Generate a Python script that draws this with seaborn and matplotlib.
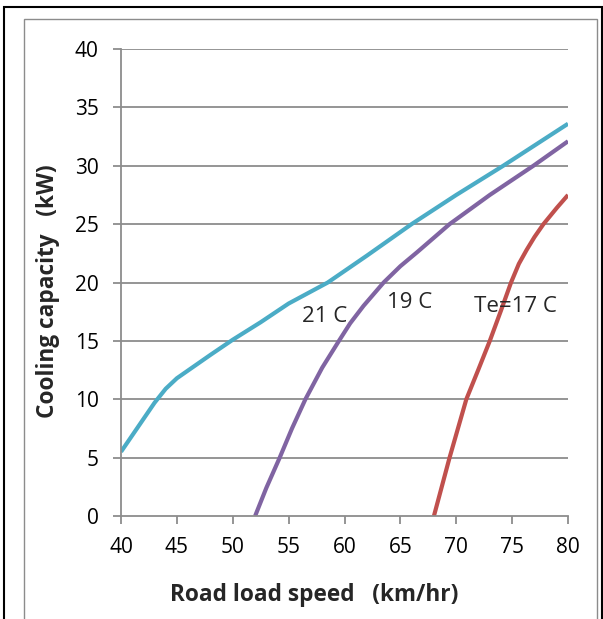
import matplotlib
matplotlib.use("Agg")
import matplotlib.pyplot as plt
import seaborn as sns
import pandas as pd
from matplotlib.patches import Rectangle

# Cooling capacity (kW) versus road load speed (km/hr) at three evaporator temperatures
speed_21 = [40, 41, 42, 43, 44, 45, 46.5, 48, 50, 52.5, 55, 58.5, 62, 66, 70, 74.2, 80]
cap_21 = [5.5, 6.9, 8.3, 9.7, 10.9, 11.8, 12.8, 13.8, 15.1, 16.6, 18.2, 20.0, 22.3, 25.0, 27.5, 30.0, 33.6]

speed_19 = [52, 53, 54.2, 55.3, 56.5, 58, 59.5, 60.5, 61.7, 63.5, 65, 66.5, 69.4, 73, 76.9, 80]
cap_19 = [0, 2.4, 5.0, 7.5, 10.0, 12.7, 15.0, 16.5, 18.0, 20.0, 21.4, 22.6, 25.0, 27.5, 30.0, 32.1]

speed_17 = [68, 69.4, 70.9, 72, 73, 74, 74.9, 75.6, 76.3, 77, 77.8, 79, 80]
cap_17 = [0, 5.0, 10.0, 12.6, 15.0, 17.6, 20.0, 21.6, 22.8, 23.9, 25.0, 26.4, 27.5]

series_labels = ["21 C", "19 C", "Te=17 C"]
series_colors = ["#4BACC6", "#8064A2", "#C0504D"]

x_ticks = list(range(40, 85, 5))
y_ticks = list(range(0, 45, 5))

df = pd.concat([
    pd.DataFrame({"speed": speed_21, "cap": cap_21, "Te": series_labels[0]}),
    pd.DataFrame({"speed": speed_19, "cap": cap_19, "Te": series_labels[1]}),
    pd.DataFrame({"speed": speed_17, "cap": cap_17, "Te": series_labels[2]}),
], ignore_index=True)

sns.set_theme(style="white")
plt.rcParams["font.family"] = ["Open Sans", "DejaVu Sans"]

fig = plt.figure(figsize=(6.03, 6.19), dpi=100)
ax = fig.add_axes([0.2007, 0.1664, 0.7413, 0.7544])

sns.lineplot(data=df, x="speed", y="cap", hue="Te", palette=series_colors,
             hue_order=series_labels, sort=False, estimator=None,
             linewidth=3.0, legend=False, ax=ax)
for line in ax.lines:
    line.set_solid_joinstyle("round")
    line.set_solid_capstyle("butt")

ax.set_xlim(40, 80)
ax.set_ylim(0, 40)
ax.set_xticks(x_ticks)
ax.set_yticks(y_ticks)
ax.set_xticklabels([str(t) for t in x_ticks], fontsize=15)
ax.set_yticklabels([str(t) for t in y_ticks], fontsize=15)

grid_color = "#8C8C8C"
ax.grid(False)
for t in y_ticks[1:]:
    ax.axhline(t, color=grid_color, linewidth=1.3, zorder=0)
for side in ["top", "right"]:
    ax.spines[side].set_visible(False)
for side in ["left", "bottom"]:
    ax.spines[side].set_color(grid_color)
    ax.spines[side].set_linewidth(1.3)
ax.tick_params(axis="both", which="major", direction="out", length=6,
               width=1.3, color=grid_color, labelcolor="black")
ax.tick_params(axis="x", bottom=True, pad=9)
ax.tick_params(axis="y", left=True, pad=10)

ax.set_xlabel("Road load speed   (km/hr)", fontsize=16.3, fontweight="bold")
ax.set_ylabel("Cooling capacity   (kW)", fontsize=16.3, fontweight="bold")
ax.xaxis.set_label_coords(0.432, -0.143)
ax.yaxis.set_label_coords(-0.137, 0.482)

# Curve labels
label_kw = dict(fontsize=16, ha="left", va="baseline")
ax.text(56.2, 16.6, "21 C", **label_kw)
ax.text(63.8, 17.8, "19 C", **label_kw)
ax.text(71.6, 17.5, "Te=17 C", **label_kw)

# Chart frame: outer black border and inner gray border
fig.patches.append(Rectangle((4 / 603, -0.05), 598 / 603, 1 - 7 / 619 + 0.05,
                             transform=fig.transFigure, fill=False,
                             edgecolor="black", linewidth=1.5))
fig.patches.append(Rectangle((24 / 603, -0.05), 573 / 603, 1 - 19 / 619 + 0.05,
                             transform=fig.transFigure, fill=False,
                             edgecolor="#8C8C8C", linewidth=1.0))

fig.savefig("out.png", dpi=100)
